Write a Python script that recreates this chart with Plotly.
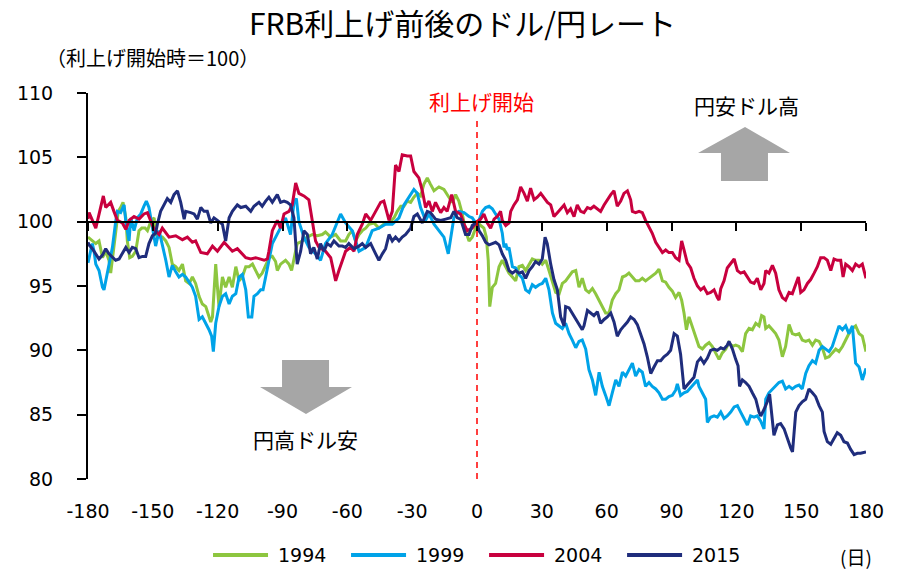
import plotly.graph_objects as go

# ---------------- data ----------------
days_1994 = [-180, -178, -176.4, -174.9, -173.3, -171.8, -170.3, -169.5, -168, -167.2, -166, -164.9, -163.8, -162.5, -161.8, -160.7, -159.5, -157.9, -156.4, -155.1, -153.6, -152.5, -151, -149.4, -148.7, -147.1, -145.6, -144, -142.5, -141, -139.4, -137.9, -136.3, -134.8, -133.2, -131.7, -130.2, -128.6, -127.1, -125.5, -124, -123.2, -122.4, -121.7, -120.9, -120.1, -119.4, -117.8, -116.3, -114.7, -113.2, -111.6, -110.1, -108.6, -107, -105.5, -103.9, -102.4, -100.9, -99.4, -97.8, -96.2, -94.7, -93.2, -92.4, -90.9, -88.6, -87, -85.8, -84.7, -83.2, -80.8, -78.5, -76.2, -73.9, -71.6, -70.1, -67.7, -65.4, -63.1, -60.8, -59.3, -57.7, -56.2, -54.6, -53.1, -51.5, -50, -47.7, -45.4, -43.1, -40.7, -38.4, -36.9, -35.3, -33.8, -32.3, -30.7, -29.2, -27.6, -26.1, -24.6, -23, -21.5, -19.9, -17.6, -15.3, -13, -11.4, -9.9, -8.4, -6.8, -5.3, -3.7, -2.2, -0.6, 0, 1.7, 3.2, 4.3, 5.2, 5.9, 7.1, 8.6, 10.2, 11.7, 13.3, 14.8, 16.4, 17.9, 19.4, 21, 22.5, 24.1, 25.6, 27.1, 28.7, 30.2, 31.8, 33.3, 34.9, 36.4, 38, 39.5, 41, 42.6, 44.1, 45.7, 47.2, 48.7, 50.3, 51.8, 53.4, 54.9, 56.5, 58, 59.5, 61.1, 62.6, 64.2, 65.7, 67.3, 68.8, 70.3, 71.9, 73.4, 75, 76.5, 78, 79.6, 81.1, 82.7, 84.2, 85.8, 87.3, 88.8, 90.4, 91.9, 93.5, 94.7, 95.8, 96.9, 98.1, 99.6, 101.2, 102.7, 104.3, 105.8, 107.4, 108.9, 110.4, 112, 113.5, 115.1, 116.6, 118.2, 119.7, 121.2, 122.8, 124.3, 125.9, 127.4, 129, 130.5, 131.7, 132.8, 133.6, 135.1, 136.7, 138.2, 139.7, 141.3, 142.8, 144.4, 145.9, 147.5, 149, 150.5, 152.1, 153.6, 155.2, 156.7, 158.3, 159.8, 161.3, 162.9, 164.4, 166, 167.5, 169.1, 170.6, 172.1, 173.7, 175.2, 176.8, 178.3, 180]
idx_1994 = [98.8, 98.5, 98.3, 98.5, 97.2, 97.7, 97.0, 96.0, 98.0, 99.3, 100.8, 101.1, 101.5, 100.3, 98.5, 97.2, 97.3, 97.7, 99.3, 99.5, 99.5, 99.3, 100.0, 100.3, 99.0, 98.8, 98.8, 98.5, 98.0, 96.7, 96.5, 96.2, 96.7, 95.4, 95.2, 95.7, 95.2, 94.2, 93.6, 93.4, 92.6, 92.2, 92.6, 94.2, 96.7, 94.9, 93.4, 95.7, 94.9, 95.7, 94.9, 96.5, 95.4, 95.7, 96.5, 96.5, 96.7, 96.2, 95.7, 96.0, 96.6, 97.2, 97.3, 96.9, 96.2, 96.7, 97.0, 96.7, 96.2, 97.2, 98.3, 98.5, 98.8, 99.0, 98.9, 99.0, 99.2, 98.8, 99.0, 98.5, 98.5, 99.0, 99.3, 98.5, 99.0, 99.3, 99.5, 99.8, 99.9, 99.5, 99.8, 99.9, 100.3, 100.8, 101.2, 101.2, 101.6, 101.5, 101.9, 102.2, 102.0, 102.9, 103.4, 102.9, 102.4, 102.7, 102.5, 101.9, 101.5, 102.1, 101.6, 100.6, 99.3, 98.5, 98.8, 99.5, 100.0, 99.7, 99.5, 98.8, 97.0, 93.4, 94.9, 95.2, 96.5, 97.0, 96.5, 96.0, 95.7, 95.4, 96.5, 96.6, 96.2, 96.7, 97.1, 97.0, 97.0, 96.7, 97.0, 96.2, 95.4, 94.5, 94.4, 95.2, 95.4, 95.8, 96.1, 96.2, 94.9, 95.6, 94.7, 94.5, 94.8, 94.4, 93.9, 93.4, 92.9, 92.9, 93.9, 94.4, 94.7, 95.7, 95.8, 96.0, 95.7, 95.4, 95.4, 95.6, 95.4, 95.6, 95.8, 96.0, 96.3, 95.4, 95.3, 94.9, 94.6, 94.1, 94.5, 93.9, 92.9, 91.6, 92.6, 91.9, 91.1, 90.3, 90.1, 90.4, 90.6, 90.3, 89.8, 89.3, 89.8, 90.1, 90.6, 90.3, 90.4, 90.3, 89.9, 91.3, 91.7, 91.6, 92.1, 91.9, 92.7, 92.6, 91.7, 91.9, 91.6, 91.3, 90.8, 89.5, 90.3, 92.0, 91.3, 91.2, 91.3, 90.8, 90.7, 90.8, 90.4, 90.8, 90.7, 90.2, 89.4, 89.5, 89.8, 90.1, 89.9, 90.3, 90.8, 91.3, 91.7, 91.9, 91.3, 91.1, 89.9]

days_1999 = [-180, -178.7, -178, -177.2, -176.4, -174.9, -173.3, -172.6, -171.8, -170.3, -168.7, -167.2, -166.4, -164.9, -163.3, -162.5, -161, -160.2, -158.7, -157.1, -155.6, -154.1, -153, -151.8, -150.2, -148.7, -147.1, -145.6, -144, -142.5, -141, -139.4, -137.9, -136.3, -134.8, -133.2, -131.7, -130.2, -128.6, -127.1, -125.5, -124, -122.8, -122, -120.9, -119.4, -117.8, -116.3, -114.7, -113.2, -111.6, -110.1, -108.6, -107, -105.8, -104.2, -103.2, -101.6, -100.1, -99, -97.8, -96.6, -94.7, -91.6, -88.6, -86.3, -84.7, -83.6, -82.4, -80.1, -77.8, -74.7, -72.4, -70.1, -67, -63.1, -60.8, -57.7, -54.6, -51.5, -48.5, -45.4, -42.3, -39.2, -36.1, -33.8, -31.5, -29.2, -27.6, -26.1, -23.8, -22.2, -19.9, -17.6, -15.3, -13.3, -12.2, -10.7, -8.4, -6, -3.7, -2.2, -0.6, 0, 0.9, 2.5, 4, 5.6, 7.1, 8.6, 10.2, 11.7, 12.5, 13.3, 14, 14.8, 15.6, 16.4, 17.9, 19.4, 21, 22.5, 24.1, 25.6, 27.1, 28.7, 30.2, 31.8, 33.3, 34.9, 36.4, 38, 39.5, 41, 42.6, 44.1, 45.7, 47.2, 48.7, 50.3, 51.8, 53.4, 54.9, 56.5, 58, 59.5, 61.1, 62.6, 64.2, 65.7, 67.3, 68.8, 70.3, 71.9, 73.4, 75, 76.5, 78, 79.6, 81.1, 82.7, 84.2, 85.8, 87.3, 88.8, 90.4, 91.9, 92.7, 94.2, 95.8, 97.3, 98.9, 100.4, 102, 102.7, 104.3, 105.8, 106.6, 108.1, 109.7, 111.2, 112.8, 114.3, 115.8, 117.4, 119, 120.5, 122, 123.6, 125.1, 126.6, 128.2, 129.7, 131.3, 132.8, 133.6, 135.1, 136.7, 138.2, 139.7, 141.3, 142.8, 144.4, 145.9, 147.5, 149, 150.5, 152.1, 153.6, 155.2, 156.7, 158.3, 159.8, 161.3, 162.9, 164.4, 166, 167.5, 169.1, 170.6, 172.1, 173.7, 175.2, 176.8, 178.3, 180]
idx_1999 = [96.8, 97.9, 98.3, 97.7, 96.7, 96.2, 94.9, 94.7, 95.4, 96.7, 98.0, 100.0, 100.8, 100.7, 101.3, 100.0, 98.5, 100.3, 99.3, 100.3, 100.6, 101.2, 101.6, 101.1, 99.5, 98.1, 99.3, 98.3, 97.0, 95.7, 96.6, 96.1, 95.7, 95.9, 95.7, 95.3, 94.9, 94.2, 92.4, 92.6, 92.1, 91.6, 91.1, 89.9, 92.1, 93.4, 94.2, 94.4, 93.6, 94.2, 94.4, 95.7, 95.9, 94.7, 92.6, 92.6, 94.2, 94.4, 94.7, 94.7, 95.7, 96.7, 98.3, 99.3, 100.3, 99.0, 101.5, 101.8, 100.0, 98.8, 98.0, 97.5, 97.0, 98.3, 99.0, 100.6, 99.9, 99.3, 97.7, 98.0, 99.3, 99.5, 99.8, 99.8, 100.3, 101.3, 101.9, 102.5, 102.2, 101.1, 100.1, 100.6, 99.8, 99.3, 98.8, 97.5, 98.8, 100.3, 100.8, 100.7, 100.4, 100.3, 99.9, 100.0, 100.1, 100.8, 101.1, 101.2, 101.0, 100.6, 100.2, 99.1, 98.0, 98.3, 97.8, 98.0, 97.3, 96.5, 96.4, 95.9, 95.6, 94.7, 94.5, 95.1, 94.9, 95.1, 95.2, 95.6, 94.7, 92.9, 92.1, 91.9, 91.7, 92.1, 91.3, 90.8, 90.2, 90.7, 90.8, 90.1, 88.5, 87.7, 86.5, 88.3, 87.2, 86.5, 85.7, 86.7, 87.7, 87.2, 88.3, 88.0, 88.5, 89.0, 88.0, 88.5, 88.3, 87.2, 87.5, 87.2, 87.0, 86.7, 86.2, 86.2, 86.4, 86.5, 86.9, 87.4, 86.5, 86.7, 86.8, 87.1, 87.4, 87.7, 87.2, 86.7, 86.2, 84.4, 84.8, 84.9, 84.8, 85.2, 84.7, 84.9, 85.2, 85.6, 85.7, 85.2, 84.7, 84.2, 84.9, 84.8, 84.9, 84.5, 83.9, 86.2, 86.7, 87.0, 87.2, 87.5, 87.6, 87.0, 87.2, 87.0, 87.2, 87.3, 87.0, 88.2, 88.8, 89.2, 89.0, 90.0, 90.3, 90.1, 89.9, 90.3, 91.1, 91.9, 91.6, 91.9, 91.3, 91.9, 89.0, 88.7, 87.7, 88.6]

days_2004 = [-180, -179.5, -176.4, -172.9, -171.8, -169.5, -168, -166.4, -164.1, -162.5, -161, -158.7, -156.4, -154.1, -152.5, -151, -149.4, -147.1, -145.6, -142.5, -139.4, -136.3, -134, -131.7, -130.2, -127.8, -124.8, -122.4, -120.1, -117, -115.5, -113.2, -110.9, -107, -104.7, -102.4, -98.5, -97, -96.3, -94.7, -92.4, -90.9, -89.3, -87, -85.5, -83.9, -82.4, -80.1, -77.8, -76.2, -74.7, -73.1, -70.1, -67.7, -65.4, -63.9, -62.3, -60.8, -58.5, -56.9, -55.4, -53.1, -51.5, -49.2, -46.9, -44.6, -43.1, -40.7, -39.2, -37.7, -36.1, -34.6, -32.3, -30.7, -29.2, -26.9, -25.3, -23.8, -22.2, -20.7, -19.2, -16.8, -15.3, -13.8, -11.7, -9.9, -7.6, -6, -4.5, -2.2, 0, 1.7, 3.2, 4.8, 6.3, 7.9, 9.4, 10.9, 11.7, 13.3, 14.8, 15.6, 17.1, 18.7, 20.2, 21.8, 23.3, 24.8, 26.4, 27.9, 29.5, 31, 32.6, 34.1, 35.6, 37.2, 38.7, 40.3, 41.8, 43.3, 44.9, 46.4, 48, 49.5, 51.1, 52.6, 54.1, 55.7, 57.2, 58.8, 60.3, 61.9, 63.4, 64.9, 66.5, 68, 69.6, 71.1, 71.9, 73.4, 75, 76.5, 78, 79.6, 81.1, 82.7, 84.2, 85.8, 87.3, 88.8, 90.4, 91.9, 93.5, 94.7, 95.8, 97.3, 98.9, 100.4, 102, 103.5, 105, 106.6, 108.1, 109.7, 111.2, 112, 112.8, 114.3, 115.8, 117.4, 119, 120.5, 122, 123.6, 125.1, 126.6, 128.2, 129.7, 131.3, 132.8, 133.6, 135.1, 136.7, 138.2, 139.7, 141.3, 142.8, 144.4, 145.9, 147.5, 148.7, 149.8, 151.3, 152.9, 154.4, 156, 157.5, 159, 160.6, 162.1, 163.7, 165.2, 166.7, 168.3, 169.4, 170.6, 172.1, 173.7, 175.2, 176.8, 178.3, 180]
idx_2004 = [100.2, 100.7, 99.5, 102.0, 101.1, 101.5, 100.8, 100.1, 99.9, 99.4, 100.1, 100.4, 100.2, 100.6, 100.7, 100.1, 99.4, 99.0, 99.5, 98.8, 98.9, 98.6, 98.8, 98.4, 98.5, 97.6, 97.5, 98.1, 97.7, 98.4, 98.1, 97.7, 97.9, 97.2, 97.1, 97.2, 97.0, 97.1, 97.7, 99.3, 100.1, 99.5, 100.6, 100.8, 101.3, 103.0, 102.2, 102.0, 101.7, 100.1, 98.5, 98.0, 97.7, 97.2, 95.4, 96.2, 97.0, 97.7, 98.0, 97.7, 99.0, 99.8, 100.6, 100.1, 100.8, 101.5, 101.6, 100.1, 100.8, 104.4, 103.9, 105.2, 105.1, 105.1, 103.9, 103.4, 102.4, 101.1, 101.6, 100.8, 101.5, 100.7, 101.1, 100.8, 102.1, 100.8, 100.6, 99.8, 99.3, 99.5, 100.0, 100.2, 100.6, 99.9, 99.5, 100.2, 100.4, 100.8, 100.1, 99.7, 99.9, 100.8, 101.3, 101.7, 102.7, 102.2, 101.6, 102.6, 101.7, 101.9, 102.2, 101.9, 101.5, 101.3, 100.4, 100.7, 101.0, 101.3, 100.7, 101.0, 100.4, 101.3, 100.8, 100.7, 101.1, 101.0, 101.2, 101.0, 100.8, 101.3, 101.7, 102.1, 102.4, 101.2, 101.6, 102.2, 102.4, 101.7, 100.8, 100.7, 100.8, 100.7, 100.1, 99.6, 99.1, 98.4, 98.0, 97.6, 97.8, 97.6, 97.6, 97.2, 97.0, 98.5, 97.8, 96.8, 96.4, 95.6, 95.0, 94.7, 94.9, 94.4, 94.5, 94.7, 94.1, 93.9, 94.8, 95.4, 96.4, 96.8, 97.1, 96.2, 96.0, 96.1, 95.7, 95.3, 95.2, 95.6, 94.7, 95.2, 96.2, 96.0, 96.6, 96.0, 94.7, 94.1, 93.9, 94.5, 94.4, 95.2, 95.7, 94.5, 94.7, 95.2, 95.5, 96.0, 96.5, 97.2, 97.2, 97.0, 96.2, 97.1, 97.0, 97.0, 95.7, 96.7, 96.5, 96.2, 96.7, 96.5, 96.7, 95.6]

days_2015 = [-180, -179.5, -178, -176.4, -174.9, -173.3, -171.8, -170.3, -168.7, -167.2, -165.6, -164.1, -162.5, -161, -159.5, -157.9, -156.4, -154.8, -153.3, -151.8, -150.2, -148.7, -147.9, -146.4, -144.8, -143.3, -141.7, -140.2, -138.6, -137.1, -135.5, -134.8, -132.5, -130.9, -129.4, -127.8, -126.3, -124.8, -123.2, -121.7, -120.1, -117.8, -116.3, -114.7, -113.2, -110.9, -109.3, -107, -104.7, -103.2, -100.9, -99.4, -97.8, -96.3, -94.7, -92.4, -90.9, -89.3, -87.8, -86.3, -84.7, -83.9, -83.2, -81.6, -80.1, -78.5, -77, -75.5, -73.9, -72.4, -70.8, -69.3, -67.7, -66.2, -63.9, -62.3, -60.8, -59.3, -56.9, -54.6, -53.1, -51.5, -49.2, -46.9, -45.4, -43.8, -42.3, -40.7, -39.2, -37.7, -36.1, -34.6, -33, -30.7, -29.2, -27.6, -25.3, -23, -21.5, -19.2, -16.8, -14.5, -12.2, -10.7, -9.1, -7.6, -5.3, -3.7, -2.2, -0.6, 0, 0.9, 2.5, 4, 5.6, 7.1, 8.6, 10.2, 11.7, 13.3, 14.8, 16.4, 17.9, 19.4, 21, 22.5, 24.1, 25.6, 27.1, 28.7, 30.2, 31.5, 32.5, 34.1, 35.6, 37.2, 38.7, 40.3, 41, 42.6, 44.1, 45.7, 47.2, 48.7, 49.5, 50.3, 51.1, 52.6, 54.1, 55.7, 57.2, 58.8, 60.3, 61.9, 63.4, 64.9, 66.5, 68, 69.6, 71.1, 72.7, 74.2, 75.7, 77.3, 78.8, 80.4, 81.9, 83.5, 85, 86.5, 88.1, 89.6, 91.2, 92.7, 94.2, 95.8, 97.3, 98.9, 100.4, 102, 103.5, 105, 106.6, 108.1, 109.7, 111.2, 112.8, 114.3, 115.8, 116.6, 118.2, 119.7, 120.8, 121.5, 122.8, 124.3, 125.9, 127.4, 129, 130.5, 131.3, 132.8, 134.3, 135.4, 136.7, 137.4, 139, 140.5, 142.1, 143.6, 145.2, 146, 147.5, 149, 150.5, 152.1, 153.6, 155.2, 156.7, 158.3, 159.8, 160.6, 162.1, 163.7, 165.2, 166.7, 168.3, 169.8, 171.4, 172.9, 174.5, 176, 177.5, 180]
idx_2015 = [98.4, 98.2, 97.9, 97.5, 97.1, 97.4, 97.9, 97.5, 97.2, 97.0, 97.1, 97.5, 98.0, 97.6, 98.0, 97.9, 97.2, 97.3, 97.3, 98.3, 98.9, 99.1, 99.8, 100.8, 101.3, 101.8, 101.5, 102.1, 102.4, 101.5, 100.2, 100.8, 100.7, 100.6, 100.2, 101.1, 100.8, 100.8, 99.9, 100.3, 100.1, 99.8, 98.5, 100.3, 100.8, 101.3, 101.1, 101.2, 100.8, 101.2, 101.5, 101.2, 101.6, 101.9, 101.5, 102.1, 101.5, 101.6, 101.5, 101.3, 100.3, 98.5, 96.7, 97.7, 99.3, 99.0, 97.5, 98.0, 97.1, 98.3, 97.7, 98.3, 98.1, 98.5, 98.1, 98.1, 98.0, 98.3, 97.9, 98.1, 98.3, 98.0, 98.3, 97.5, 97.0, 97.5, 97.9, 99.0, 98.5, 98.8, 98.5, 98.8, 99.0, 99.5, 100.4, 100.6, 99.9, 100.8, 100.7, 100.2, 100.1, 100.2, 100.3, 100.8, 100.3, 100.2, 99.0, 99.0, 99.7, 99.9, 100.0, 99.3, 98.9, 98.4, 98.2, 98.3, 98.4, 98.2, 97.5, 97.0, 96.2, 96.0, 96.2, 96.0, 96.1, 95.6, 96.2, 96.5, 96.9, 96.7, 97.1, 98.8, 98.3, 96.7, 95.5, 94.7, 92.6, 91.9, 93.4, 93.3, 92.9, 92.4, 92.1, 91.6, 91.9, 92.6, 93.1, 92.9, 92.7, 93.0, 92.1, 92.4, 92.6, 92.9, 92.2, 91.1, 91.6, 91.9, 92.2, 92.6, 92.4, 92.0, 91.3, 90.5, 89.5, 88.2, 88.7, 89.2, 89.2, 89.5, 89.7, 90.0, 91.3, 91.1, 89.7, 87.0, 87.3, 87.6, 87.9, 89.1, 89.4, 89.0, 89.4, 90.0, 90.1, 90.0, 90.2, 90.1, 90.4, 90.7, 90.1, 89.3, 88.8, 87.2, 87.7, 87.5, 87.2, 86.7, 86.2, 85.2, 84.9, 85.4, 86.0, 86.6, 84.2, 83.4, 84.2, 84.3, 83.9, 83.1, 82.4, 82.1, 85.2, 85.7, 86.0, 86.2, 87.0, 86.7, 86.4, 85.7, 85.2, 83.7, 82.9, 82.7, 83.2, 83.6, 83.4, 82.9, 82.8, 82.3, 81.9, 82.0, 82.0, 82.1]

series_names = ["1994", "1999", "2004", "2015"]
series_days = [days_1994, days_1999, days_2004, days_2015]
series_vals = [idx_1994, idx_1999, idx_2004, idx_2015]
series_colors = ["#8DC63F", "#00A3E8", "#C8003E", "#1F2D7C"]

x_ticks = [-180, -150, -120, -90, -60, -30, 0, 30, 60, 90, 120, 150, 180]
y_ticks = [80, 85, 90, 95, 100, 105, 110]

title_text = "FRB利上げ前後のドル/円レート"
subtitle_text = "（利上げ開始時＝100）"
hike_text = "利上げ開始"
up_text = "円安ドル高"
down_text = "円高ドル安"
unit_text = "(日)"

JP = "Noto Sans CJK JP, Noto Sans, sans-serif"
NUM = "DejaVu Sans, Verdana, sans-serif"

fig = go.Figure()
for name, xs, ys, col in zip(series_names, series_days, series_vals, series_colors):
    fig.add_trace(go.Scatter(x=xs, y=ys, mode="lines", name=name,
                             line=dict(color=col, width=3), showlegend=False))
# empty trace so the axis drawn at index = 100 is rendered
fig.add_trace(go.Scatter(x=[], y=[], xaxis="x2", showlegend=False, hoverinfo="skip"))

fig.update_layout(
    width=908, height=572, autosize=False,
    margin=dict(l=88, r=42, t=93, b=93, autoexpand=False),
    paper_bgcolor="white", plot_bgcolor="white",
    xaxis=dict(range=[-180, 180], tickvals=x_ticks, ticktext=[str(v) for v in x_ticks],
               showline=False, showgrid=False, zeroline=False, ticks="",
               ticklabelstandoff=19,
               tickfont=dict(family=NUM, size=19, color="#000")),
    xaxis2=dict(range=[-180, 180], overlaying="x", anchor="free", position=(100 - 80) / 30,
                tickvals=x_ticks, showticklabels=False, showline=True, linecolor="#000",
                linewidth=2, ticks="outside", ticklen=8, tickwidth=2, tickcolor="#000",
                showgrid=False, zeroline=False),
    yaxis=dict(range=[80, 110], tickvals=y_ticks, showline=True, linecolor="#000",
               linewidth=2, ticks="outside", ticklen=9, tickwidth=2, tickcolor="#000",
               showgrid=False, zeroline=False, ticklabelstandoff=20,
               tickfont=dict(family=NUM, size=19, color="#000")),
)

# rate-hike start dashed line
fig.add_shape(type="line", xref="x", yref="paper", x0=0, x1=0, y0=0, y1=0.938,
              line=dict(color="#FF0000", width=1.5, dash="6px,5px"))

# block arrows (paper coordinates)
up_arrow = "M 0.8445,0.9119 L 0.9023,0.8446 L 0.8740,0.8446 L 0.8740,0.7720 L 0.8136,0.7720 L 0.8136,0.8446 L 0.7841,0.8446 Z"
down_arrow = "M 0.2494,0.3083 L 0.3098,0.3083 L 0.3098,0.2383 L 0.3393,0.2383 L 0.2802,0.1684 L 0.2211,0.2383 L 0.2494,0.2383 Z"
for p in (up_arrow, down_arrow):
    fig.add_shape(type="path", xref="paper", yref="paper", path=p,
                  fillcolor="#A6A6A6", line=dict(width=0))

ann = [
    dict(text=title_text, x=0.482, y=1.184, font=dict(family=JP, size=30, color="#000")),
    dict(text=subtitle_text, x=-0.056, y=1.0907, xanchor="left", font=dict(family=JP, size=20, color="#000")),
    dict(text=hike_text, x=0.5064, y=0.979, font=dict(family=JP, size=21, color="#FF0000")),
    dict(text=up_text, x=0.8458, y=0.969, font=dict(family=JP, size=21, color="#000")),
    dict(text=down_text, x=0.280, y=0.1036, font=dict(family=JP, size=21, color="#000")),
    dict(text=unit_text, x=0.987, y=-0.202, font=dict(family=JP, size=19, color="#000")),
]
for a in ann:
    a.setdefault("xanchor", "center")
    fig.add_annotation(xref="paper", yref="paper", yanchor="middle", showarrow=False, **a)

# manual legend (long line swatches as in the reference)
leg_y = -0.197
leg_x0 = 0.1607
leg_step = 0.1774
for i, (name, col) in enumerate(zip(series_names, series_colors)):
    x0 = leg_x0 + i * leg_step
    fig.add_shape(type="line", xref="paper", yref="paper", x0=x0, x1=x0 + 0.0707,
                  y0=leg_y, y1=leg_y, line=dict(color=col, width=4))
    fig.add_annotation(xref="paper", yref="paper", x=x0 + 0.081, y=leg_y, xanchor="left",
                       yanchor="middle", showarrow=False, text=name,
                       font=dict(family=NUM, size=19, color="#000"))

fig.write_html("out.html", config={"displayModeBar": False},
               post_script="document.body.style.margin='0';document.body.style.overflow='hidden';")
